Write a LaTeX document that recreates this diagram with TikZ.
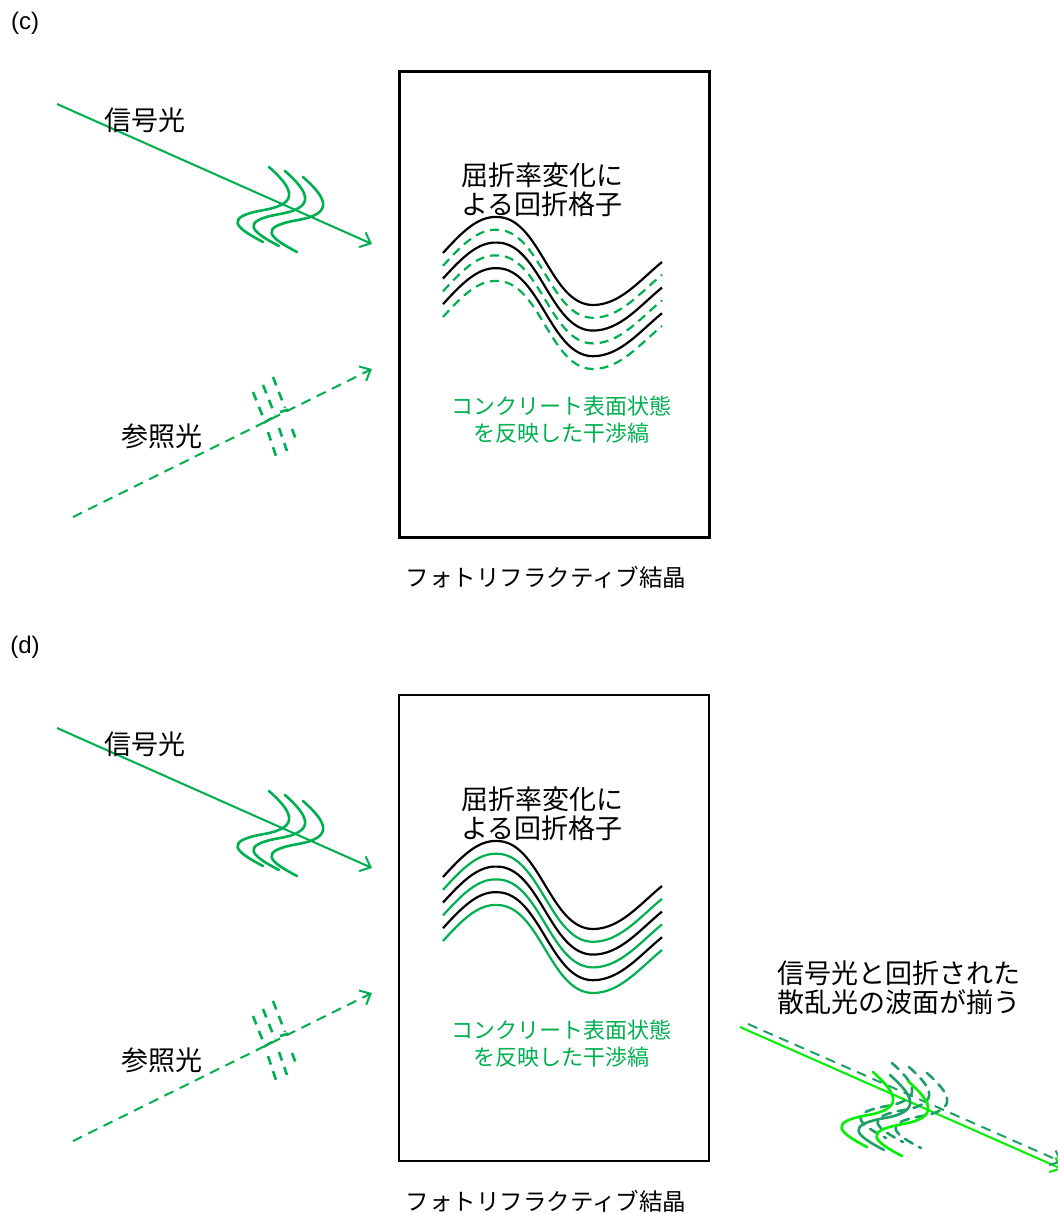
\documentclass[tikz,border=0pt]{standalone}
\usepackage{fontspec}
\setmainfont{Liberation Sans}
\newfontfamily\jp{Noto Sans CJK JP}
\usetikzlibrary{arrows.meta}
\definecolor{sig}{HTML}{00B050}
\definecolor{brightgreen}{HTML}{00F000}
\definecolor{darkgreen}{HTML}{1E9F68}
\begin{document}
\begin{tikzpicture}[x=1pt,y=-1pt,
  every node/.style={inner sep=0pt},
  paneltag/.style={font=\fontsize{24}{28}\selectfont},
  biglbl/.style={font=\jp\fontsize{27}{29}\selectfont},
  fringelbl/.style={font=\jp\fontsize{22}{27}\selectfont},
  beam/.style={sig, line width=2pt, -{Straight Barb[length=9pt,width=16pt]}},
  refbeam/.style={beam, dash pattern=on 10pt off 7pt},
  front/.style={sig, line width=2.6pt, line cap=round},
  refront/.style={sig, line width=2.6pt, dash pattern=on 9pt off 7pt},
  gblack/.style={black, line width=2.2pt},
  gline/.style={sig, line width=2.2pt},
  gdash/.style={gline, dash pattern=on 9pt off 6pt},
  crystal/.style={draw, minimum width=310pt, minimum height=466pt, anchor=north west},
  sfront/.pic={\draw (0,0) .. controls (20,18) and (35,36) .. (-5,43)
      .. controls (-45,50) and (-35,60) .. (-6,75);},
  grating/.pic={\draw (0,0) .. controls (19,-21) and (35,-37) .. (54,-36)
      .. controls (97,-36) and (107,52) .. (150,52)
      .. controls (177,52) and (197,27) .. (219,9);}
]
\useasboundingbox (0,0) rectangle (1057,1214);

% panels (c) and (d) share the same layout
\foreach \p/\dy/\gs/\bw in {c/0/gdash/3pt, d/624/gline/2pt} {
\begin{scope}[shift={(0,\dy)}, name prefix=\p-]
  \node[paneltag] (tag) at (25,23) {(\p)};

  % crystal
  \node[crystal, line width=\bw] (box) at (398,70) {};
  \node[biglbl, align=left, anchor=west] (grat) at (461,190) {屈折率変化に\\よる回折格子};
  \node[fringelbl, sig, align=center] (fringe) at (561,420) {コンクリート表面状態\\を反映した干渉縞};
  \node[fringelbl, font=\jp\fontsize{23.5}{27}\selectfont] (cap) at (546,577) {フォトリフラクティブ結晶};

  % grating lines
  \foreach \k in {0,2,4}
    \pic[gblack] at (443,{253+12.8*\k}) {grating};
  \foreach \k in {1,3,5}
    \pic[\gs] at (443,{253+12.8*\k}) {grating};

  % signal light
  \coordinate (sigA) at (57,104);
  \coordinate (sigB) at (372,244);
  \draw[beam] (sigA) -- (sigB);
  \node[biglbl] (siglbl) at (145,120) {信号光};
  \pic[front] at (269,167) {sfront};
  \pic[front] at (285,171) {sfront};
  \pic[front] at (303,177) {sfront};

  % reference light
  \coordinate (refA) at (73,517);
  \coordinate (refB) at (372,369);
  \draw[refbeam] (refA) -- (refB);
  \node[biglbl] (reflbl) at (162,436) {参照光};
  \draw[refront] (253,392) -- (265,422) -- (272,418) (268,432) -- (277,459);
  \draw[refront] (263,385) -- (275,415) (280,412) -- (287,410) -- (290,418)
    (279,428) -- (287,451);
  \draw[refront] (273,377) -- (285,408) (292,429) -- (297,442);
\end{scope}
}

% diffracted light leaving the crystal
\node[biglbl, align=left, anchor=west] (out) at (777,988) {信号光と回折された\\散乱光の波面が揃う};
\coordinate (outA) at (740,1027);
\coordinate (outB) at (1062,1169);
\coordinate (difA) at (748,1024);
\coordinate (difB) at (1062,1162);
\draw[brightgreen, line width=2pt, -{Straight Barb[length=9pt,width=16pt]}] (outA) -- (outB);
\draw[darkgreen, line width=2pt, dash pattern=on 10pt off 7pt,
  -{Straight Barb[length=9pt,width=16pt]}] (difA) -- (difB);
\foreach \x/\y in {892/1063, 909/1067, 927/1073}
  \pic[front, darkgreen, dash pattern=on 9pt off 7pt] at (\x,\y) {sfront};
\pic[front, brightgreen] at (873,1072) {sfront};
\pic[front, darkgreen] at (890,1075) {sfront};
\pic[front, brightgreen] at (908,1081) {sfront};
\end{tikzpicture}
\end{document}
